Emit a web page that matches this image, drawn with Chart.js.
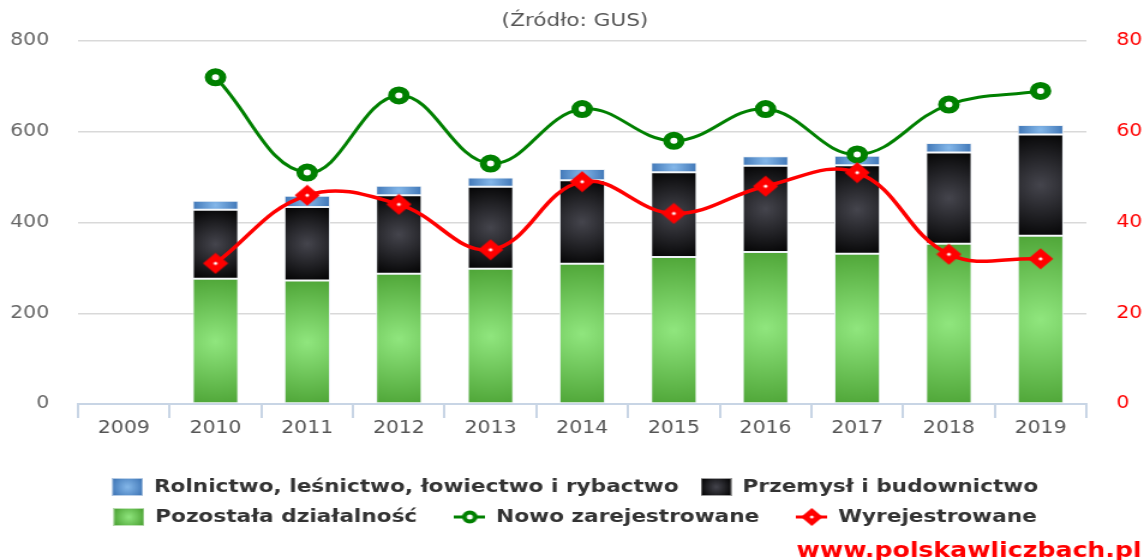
<!DOCTYPE html>
<html lang="pl">
<head>
<meta charset="utf-8">
<title>Podmioty gospodarcze</title>
<script src="https://cdn.jsdelivr.net/npm/chart.js@4.4.1/dist/chart.umd.min.js"></script>
<style>
  html, body { margin: 0; padding: 0; background: #fff; overflow: hidden; }
  /* the reference is drawn slightly wide, so the canvas is stretched sideways */
  #wrap { width: 953px; height: 560px; transform: scaleX(1.2004); transform-origin: 0 0; }
</style>
</head>
<body>
<div id="wrap"><canvas id="chart" width="953" height="560"></canvas></div>
<script>
//-----------------------------------------
// DATA
//-----------------------------------------
const years = ["2009", "2010", "2011", "2012", "2013", "2014", "2015", "2016", "2017", "2018", "2019"];

// bars, left axis (stack: bottom -> top)
const pozostala = [null, 276, 272, 287, 298, 309, 324, 335, 331, 353, 371];
const przemysl  = [null, 152, 162, 173, 181, 184, 187, 190, 195, 201, 223];
const rolnictwo = [null, 20, 25, 21, 20, 25, 21, 21, 21, 21, 21];

// lines, right axis
const nowo  = [null, 72, 51, 68, 53, 65, 58, 65, 55, 66, 69];
const wyrej = [null, 31, 46, 44, 34, 49, 42, 48, 51, 33, 32];

const leftTicks  = [0, 200, 400, 600, 800];
const rightTicks = [0, 20, 40, 60, 80];

const stackSeries = [pozostala, przemysl, rolnictwo];
const legendOrder = [2, 1, 0, 3, 4];
// trailing spaces widen the gaps between legend entries (by legend position)
const legendGap = [" ", "", "   ", "   ", ""];


//-----------------------------------------
// HELPERS
//-----------------------------------------
function makeIcon(w, h, draw) {
  const c = document.createElement("canvas");
  c.width = w;
  c.height = h;
  draw(c.getContext("2d"), w, h);
  return c;
}

function diamond(ctx, cx, cy, r) {
  ctx.beginPath();
  ctx.moveTo(cx, cy - r);
  ctx.lineTo(cx + r, cy);
  ctx.lineTo(cx, cy + r);
  ctx.lineTo(cx - r, cy);
  ctx.closePath();
}

// radial shading for each bar segment
function barGradient(inner, outer) {
  return function (ctx) {
    const chart = ctx.chart;
    if (!chart.chartArea || ctx.type !== "data") return outer;
    const i = ctx.dataIndex, d = ctx.datasetIndex;
    if (stackSeries[d][i] == null) return outer;
    let lo = 0;
    for (let k = 0; k < d; k++) lo += stackSeries[k][i] || 0;
    const hi = lo + stackSeries[d][i];
    const x = chart.scales.x.getPixelForValue(i);
    const yTop = chart.scales.y.getPixelForValue(hi);
    const yBot = chart.scales.y.getPixelForValue(lo);
    const cy = (yTop + yBot) / 2;
    const r = Math.max((yBot - yTop) / 2, 18) * 1.15;
    const g = chart.ctx.createRadialGradient(x, cy, 0, x, cy, r);
    g.addColorStop(0, inner);
    g.addColorStop(1, outer);
    return g;
  };
}

function boxIcon(inner, outer) {
  return makeIcon(26, 18, (c, w, h) => {
    const g = c.createRadialGradient(w / 2, h / 2, 0, w / 2, h / 2, 15);
    g.addColorStop(0, inner);
    g.addColorStop(1, outer);
    c.fillStyle = g;
    c.fillRect(0, 0, w, h);
    c.strokeStyle = "rgba(255,255,255,0.6)";
    c.lineWidth = 1;
    c.strokeRect(0.5, 0.5, w - 1, h - 1);
  });
}

const redPoint = makeIcon(22, 22, c => {
  diamond(c, 11, 11, 10.5);
  c.fillStyle = "#ff0000";
  c.fill();
  c.beginPath();
  c.arc(11, 11, 1.6, 0, Math.PI * 2);
  c.fillStyle = "#fff";
  c.fill();
});

const legendIcons = [
  boxIcon("#90e67e", "#479e2f"),
  boxIcon("#45454d", "#000000"),
  boxIcon("#85b8ea", "#3b72b3"),
  makeIcon(26, 18, c => {
    c.strokeStyle = "#008000";
    c.lineWidth = 3;
    c.beginPath();
    c.moveTo(0, 9);
    c.lineTo(26, 9);
    c.stroke();
    c.beginPath();
    c.arc(13, 9, 4.5, 0, Math.PI * 2);
    c.fillStyle = "#fff";
    c.fill();
    c.lineWidth = 4;
    c.stroke();
  }),
  makeIcon(26, 20, c => {
    c.strokeStyle = "#ff0000";
    c.lineWidth = 3;
    c.beginPath();
    c.moveTo(0, 10);
    c.lineTo(26, 10);
    c.stroke();
    diamond(c, 13, 10, 9);
    c.fillStyle = "#ff0000";
    c.fill();
    c.beginPath();
    c.arc(13, 10, 1.5, 0, Math.PI * 2);
    c.fillStyle = "#fff";
    c.fill();
  })
];

// site address, bottom right
const watermark = {
  id: "watermark",
  afterDraw(chart) {
    const c = chart.ctx;
    c.save();
    c.font = 'bold 21px "DejaVu Sans"';
    c.fillStyle = "#ff0000";
    c.textAlign = "right";
    c.textBaseline = "alphabetic";
    c.fillText("www.polskawliczbach.pl", 951, 557);
    c.restore();
  }
};


//-----------------------------------------
// CHART
//-----------------------------------------
const barCommon = {
  type: "bar",
  yAxisID: "y",
  stack: "s",
  order: 2,
  borderColor: "#eef2f6",
  borderWidth: 1,
  borderSkipped: false,
  barPercentage: 0.5,
  categoryPercentage: 1
};

new Chart(document.getElementById("chart"), {
  data: {
    labels: years,
    datasets: [
      { ...barCommon, label: "Pozostała działalność", data: pozostala,
        backgroundColor: barGradient("#90e67e", "#479e2f") },
      { ...barCommon, label: "Przemysł i budownictwo", data: przemysl,
        backgroundColor: barGradient("#45454d", "#000000") },
      { ...barCommon, label: "Rolnictwo, leśnictwo, łowiectwo i rybactwo", data: rolnictwo,
        backgroundColor: barGradient("#85b8ea", "#3b72b3") },
      {
        type: "line",
        label: "Nowo zarejestrowane",
        data: nowo,
        yAxisID: "y1",
        order: 1,
        borderColor: "#008000",
        borderWidth: 3,
        tension: 0.4,
        fill: false,
        pointStyle: "circle",
        pointRadius: 6,
        pointBorderWidth: 6,
        pointBackgroundColor: "#fff",
        pointBorderColor: "#008000"
      },
      {
        type: "line",
        label: "Wyrejestrowane",
        data: wyrej,
        yAxisID: "y1",
        order: 0,
        borderColor: "#ff0000",
        borderWidth: 3.5,
        tension: 0.4,
        fill: false,
        pointStyle: redPoint,
        pointRadius: 10
      }
    ]
  },
  options: {
    responsive: false,
    animation: false,
    devicePixelRatio: 1,
    layout: { padding: { left: 5, right: 0, top: 0, bottom: 24 } },
    plugins: {
      title: {
        display: true,
        text: "(Źródło: GUS)",
        color: "#555",
        font: { family: "DejaVu Sans", size: 18, weight: "normal" },
        padding: { top: 11, bottom: 8.4 }
      },
      legend: {
        position: "bottom",
        labels: {
          usePointStyle: true,
          pointStyleWidth: 26,
          boxHeight: 18,
          padding: 12,
          color: "#333",
          font: { family: "DejaVu Sans", size: 18, weight: "bold" },
          generateLabels: chart => legendOrder.map((i, n) => ({
            text: chart.data.datasets[i].label + legendGap[n],
            pointStyle: legendIcons[i],
            fillStyle: "transparent",
            strokeStyle: "transparent",
            lineWidth: 0,
            hidden: !chart.isDatasetVisible(i),
            datasetIndex: i,
            fontColor: "#333"
          }))
        }
      },
      tooltip: { enabled: false }
    },
    scales: {
      x: {
        stacked: true,
        grid: { offset: true, drawOnChartArea: false, drawTicks: true, tickLength: 14, color: "#c8d5e5", lineWidth: 2 },
        border: { color: "#c8d5e5", width: 2 },
        ticks: { padding: 0, color: "#555", font: { family: "DejaVu Sans", size: 17 } },
        afterFit: s => { s.height = 62; }
      },
      y: {
        stacked: true,
        position: "left",
        min: 0,
        max: 800,
        afterBuildTicks: s => { s.ticks = leftTicks.map(v => ({ value: v })); },
        afterFit: s => { s.width = 60; },
        grid: { color: "#d9d9d9", lineWidth: 1.5, drawTicks: false },
        border: { display: false },
        ticks: { padding: 24, color: "#666", font: { family: "DejaVu Sans", size: 17 } }
      },
      y1: {
        position: "right",
        min: 0,
        max: 80,
        afterBuildTicks: s => { s.ticks = rightTicks.map(v => ({ value: v })); },
        afterFit: s => { s.width = 48; },
        grid: { drawOnChartArea: false, drawTicks: false },
        border: { display: false },
        ticks: { padding: 25, color: "#ff0000", font: { family: "DejaVu Sans", size: 17 } }
      }
    }
  },
  plugins: [watermark]
});
</script>
</body>
</html>
